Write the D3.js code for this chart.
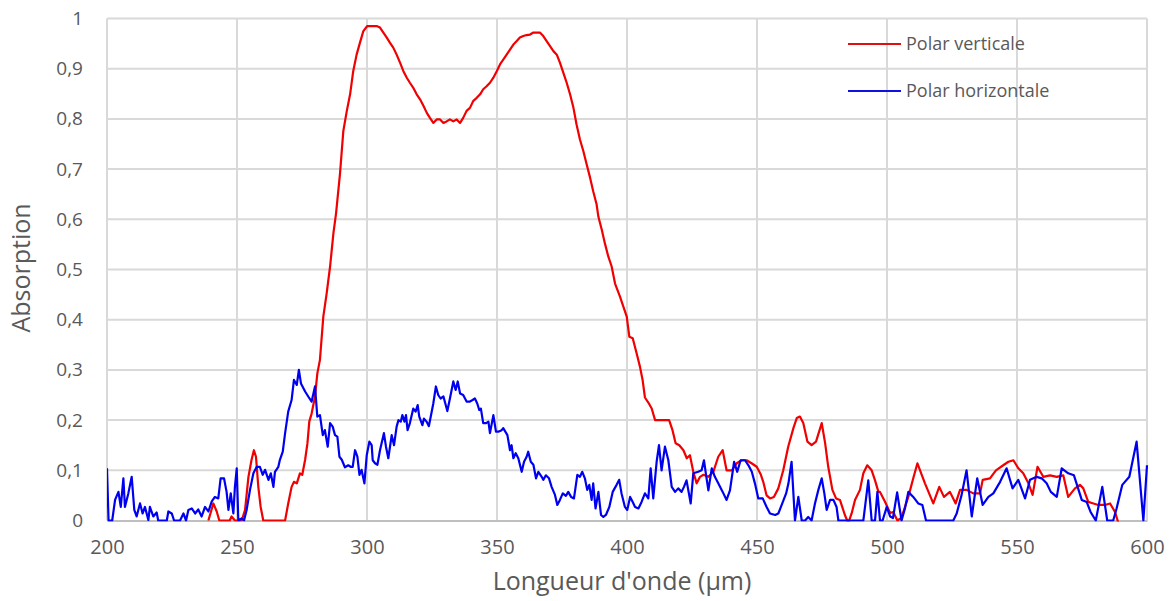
<!DOCTYPE html>
<html><head><meta charset="utf-8">
<script src="https://cdn.jsdelivr.net/npm/d3@7/dist/d3.min.js"></script>
<style>body{margin:0;background:#fff}svg{display:block}</style>
</head><body>
<svg id="c" width="1173" height="601"></svg>
<script>
const xTicks = [200,250,300,350,400,450,500,550,600];
const yTicks = [0,0.1,0.2,0.3,0.4,0.5,0.6,0.7,0.8,0.9,1];
const seriesNames = ["Polar verticale","Polar horizontale"];

const redX = [239.0,240.9,242.2,243.2,247.2,247.9,249.2,251.8,253.1,254.4,255.6,256.5,257.3,258.2,259.1,260.1,268.5,269.7,271.0,271.9,273.0,274.2,275.1,276.2,277.1,277.8,278.7,280.0,280.9,281.9,283.2,284.5,285.8,287.1,288.1,289.6,290.9,292.2,293.5,294.7,296.0,297.3,298.6,300.1,301.8,303.7,305.0,306.3,307.6,308.8,310.1,311.4,312.7,314.0,315.3,316.5,317.8,319.1,320.4,321.7,323.0,324.2,325.5,326.8,328.1,329.4,330.6,331.9,333.2,334.5,335.8,337.0,338.3,339.6,340.9,342.2,343.5,344.7,346.0,347.3,348.6,349.9,351.2,352.4,353.7,355.0,356.3,357.6,358.8,360.1,361.4,362.7,364.0,365.3,366.5,367.8,369.1,370.4,371.7,373.0,374.2,375.5,376.8,378.1,379.4,380.6,381.9,383.2,384.5,385.8,387.0,388.3,389.0,390.3,391.5,392.8,394.1,395.4,397.3,398.6,399.9,400.9,402.2,403.7,405.0,406.0,406.9,408.2,409.5,410.8,416.2,417.5,418.7,420.1,421.7,423.0,424.2,425.5,426.8,428.1,429.4,431.3,433.2,435.1,436.8,438.3,440.3,442.2,444.1,446.0,447.9,449.9,451.5,452.4,453.7,455.0,456.5,458.2,460.1,462.0,464.0,465.3,466.5,467.8,469.4,471.0,472.7,474.9,476.2,477.4,479.0,480.4,481.9,483.8,485.1,486.4,487.7,489.6,490.9,492.4,494.1,495.4,496.7,497.3,499.2,501.2,502.4,504.0,505.5,508.2,510.1,511.7,514.6,517.8,520.1,521.9,524.2,526.4,528.1,530.6,533.2,535.8,536.8,539.6,541.9,544.7,546.7,548.6,550.5,552.4,554.4,556.0,557.9,560.1,562.7,565.3,567.8,569.7,572.3,574.2,575.5,577.4,579.4,581.3,583.8,585.8,587.7,589.0];
const redY = [0,0.034,0.018,0,0,0.008,0,0,0.021,0.087,0.121,0.14,0.127,0.067,0.027,0,0,0.034,0.067,0.077,0.074,0.094,0.091,0.121,0.154,0.197,0.213,0.247,0.293,0.32,0.406,0.453,0.506,0.573,0.612,0.69,0.776,0.815,0.849,0.895,0.928,0.952,0.975,0.985,0.985,0.985,0.982,0.972,0.962,0.952,0.942,0.928,0.912,0.895,0.882,0.872,0.862,0.849,0.839,0.826,0.812,0.802,0.792,0.799,0.799,0.792,0.795,0.799,0.795,0.799,0.792,0.802,0.816,0.822,0.836,0.842,0.849,0.859,0.865,0.872,0.882,0.895,0.909,0.918,0.928,0.938,0.948,0.955,0.962,0.965,0.967,0.968,0.972,0.972,0.972,0.965,0.955,0.945,0.935,0.928,0.912,0.892,0.872,0.849,0.822,0.789,0.759,0.736,0.709,0.683,0.656,0.63,0.605,0.579,0.552,0.526,0.506,0.472,0.446,0.426,0.406,0.366,0.363,0.333,0.306,0.28,0.245,0.235,0.223,0.2,0.2,0.18,0.154,0.15,0.14,0.124,0.13,0.097,0.074,0.087,0.091,0.087,0.097,0.127,0.14,0.1,0.1,0.114,0.12,0.12,0.114,0.107,0.091,0.077,0.05,0.044,0.047,0.064,0.1,0.147,0.184,0.204,0.207,0.194,0.157,0.15,0.157,0.194,0.154,0.107,0.061,0.044,0.041,0.011,-0.005,0.014,0.041,0.061,0.094,0.11,0.1,0.08,0.057,0.057,0.038,0.015,0.017,0.0,0.005,0.047,0.084,0.114,0.074,0.034,0.067,0.047,0.057,0.034,0.061,0.061,0.054,0.054,0.081,0.084,0.1,0.11,0.117,0.12,0.104,0.094,0.074,0.051,0.107,0.087,0.09,0.087,0.09,0.047,0.064,0.071,0.064,0.037,0.034,0.031,0.031,0.034,0.017,-0.005];

const blueX = [200.0,200.6,202.0,203.1,204.4,205.3,206.3,206.9,208.2,209.5,210.5,211.4,212.7,213.7,214.6,215.9,216.5,217.8,219.1,219.7,223.0,223.6,224.9,225.8,228.1,229.4,230.4,231.3,232.6,233.9,235.1,236.4,237.7,239.0,240.3,241.5,242.8,243.7,245.0,246.0,246.7,247.6,248.6,249.2,249.9,250.5,251.8,252.7,253.7,255.0,256.3,257.6,258.8,259.9,260.8,262.1,263.0,264.0,264.6,265.9,266.5,267.6,268.5,269.7,271.0,271.9,273.0,273.8,274.6,276.2,277.4,278.7,280.0,280.9,281.9,283.0,283.8,284.9,285.8,286.8,287.7,288.6,289.4,290.3,291.5,292.8,293.7,294.5,295.4,296.3,297.1,297.9,299.0,299.9,300.9,301.8,302.2,303.1,304.0,305.0,306.5,307.3,308.2,309.5,310.4,311.4,312.1,313.0,313.6,314.4,315.0,315.6,316.5,317.8,318.7,319.5,320.1,321.3,321.9,322.9,323.8,324.9,325.5,326.5,327.4,328.3,329.4,330.9,331.9,333.2,334.1,334.9,335.8,337.0,338.3,339.6,340.6,341.5,342.4,343.2,343.8,344.7,345.8,346.7,347.3,348.6,349.6,350.5,351.8,352.4,354.0,355.0,355.6,356.3,357.2,358.2,359.5,360.4,361.4,362.0,363.0,364.0,365.0,365.9,367.2,367.8,368.8,370.0,371.0,372.3,373.2,374.2,375.3,376.5,377.4,378.5,379.6,380.9,381.9,382.8,383.8,384.7,385.5,386.4,387.0,387.9,389.0,390.0,390.9,391.9,393.2,394.5,396.0,397.0,397.9,399.2,400.1,401.2,402.2,403.1,404.4,405.6,406.9,408.2,409.1,410.1,411.4,412.3,413.3,414.6,415.9,417.2,418.5,419.7,421.0,421.9,422.9,424.5,425.5,427.4,428.7,429.6,430.4,431.3,432.6,433.8,435.1,436.8,438.3,439.6,441.2,442.4,443.7,445.4,446.7,448.0,449.2,450.5,452.2,453.7,455.0,457.0,458.2,459.5,461.2,462.1,463.3,464.6,465.9,467.2,468.5,469.7,471.0,472.3,473.6,474.9,475.9,476.8,478.1,479.4,480.6,481.3,490.9,492.8,494.1,495.4,496.3,497.3,498.3,499.9,501.2,502.3,503.9,505.6,506.9,508.2,510.1,512.0,513.6,515.0,525.5,526.8,528.7,530.6,532.6,534.7,536.8,539.0,540.9,543.5,546.0,548.3,550.5,553.1,555.0,557.6,559.5,561.4,563.0,565.3,567.2,569.7,571.9,574.9,576.8,578.3,580.3,582.8,584.7,587.0,588.3,590.5,593.2,596.0,598.6,600.0];
const blueY = [0.104,0,0,0.041,0.057,0.027,0.084,0.027,0.054,0.087,0.021,0.008,0.034,0.014,0.027,0.001,0.027,0.008,0.016,0,0,0.018,0.014,0,0,0.014,0,0.021,0.024,0.014,0.022,0.008,0.027,0.018,0.038,0.047,0.044,0.084,0.084,0.057,0.021,0.054,0.014,0.067,0.104,0,0.004,0,0.021,0.061,0.094,0.107,0.107,0.091,0.101,0.081,0.094,0.067,0.097,0.107,0.121,0.137,0.174,0.217,0.24,0.28,0.27,0.30,0.273,0.257,0.247,0.237,0.267,0.207,0.21,0.17,0.18,0.147,0.194,0.187,0.17,0.167,0.127,0.121,0.106,0.11,0.107,0.107,0.14,0.127,0.091,0.101,0.074,0.13,0.157,0.15,0.12,0.114,0.111,0.14,0.174,0.147,0.124,0.17,0.15,0.187,0.2,0.197,0.21,0.197,0.21,0.18,0.194,0.223,0.217,0.23,0.207,0.19,0.203,0.197,0.188,0.217,0.233,0.267,0.25,0.243,0.247,0.218,0.243,0.277,0.26,0.277,0.253,0.25,0.237,0.237,0.24,0.243,0.233,0.22,0.223,0.194,0.194,0.197,0.174,0.21,0.177,0.177,0.18,0.184,0.17,0.14,0.15,0.124,0.134,0.124,0.097,0.117,0.127,0.137,0.117,0.111,0.084,0.097,0.087,0.081,0.09,0.084,0.067,0.051,0.031,0.041,0.054,0.049,0.057,0.047,0.044,0.091,0.087,0.097,0.084,0.061,0.071,0.041,0.074,0.024,0.057,0.011,0.007,0.011,0.027,0.057,0.071,0.081,0.054,0.027,0.021,0.047,0.037,0.027,0.024,0.037,0.054,0.044,0.104,0.044,0.117,0.15,0.1,0.147,0.12,0.067,0.057,0.064,0.057,0.067,0.08,0.034,0.094,0.097,0.1,0.12,0.091,0.06,0.104,0.087,0.074,0.057,0.041,0.06,0.117,0.097,0.12,0.12,0.11,0.097,0.074,0.044,0.044,0.027,0.014,0.011,0.014,0.031,0.054,0.074,0.117,0,0.047,0,0,0.007,0,0.034,0.061,0.084,0.054,0.021,0.041,0.041,0.027,0,0,0.08,0,0,0.057,0,0,0.027,0.008,0.005,0.056,0,0.024,0.057,0.047,0.034,0.031,0,0,0.014,0.051,0.1,0.008,0.084,0.031,0.047,0.054,0.077,0.104,0.064,0.081,0.044,0.081,0.087,0.084,0.074,0.057,0.047,0.104,0.094,0.09,0.041,0.037,0.017,0,0.067,0,0,0.024,0.071,0.087,0.157,0,0.11];

const W = 1173, H = 601;
const m = {left:107, right:1147, top:18.5, bottom:520.5};
const svg = d3.select("#c");
const x = d3.scaleLinear().domain([200,600]).range([m.left, m.right]);
const y = d3.scaleLinear().domain([0,1]).range([m.bottom, m.top]);
const font = "'Open Sans', sans-serif";
const grey = "#595959";

// gridlines
svg.append("g").selectAll("line.h").data(yTicks.filter(d=>d>0)).join("line")
  .attr("x1", m.left).attr("x2", m.right)
  .attr("y1", d=>y(d)).attr("y2", d=>y(d))
  .attr("stroke","#d9d9d9").attr("stroke-width",2);
svg.append("g").selectAll("line.v").data(xTicks).join("line")
  .attr("x1", d=>x(d)).attr("x2", d=>x(d))
  .attr("y1", m.top).attr("y2", m.bottom)
  .attr("stroke","#d9d9d9").attr("stroke-width",2);

// axes
const xAxis = svg.append("g").attr("transform",`translate(0,${m.bottom})`)
  .call(d3.axisBottom(x).tickValues(xTicks).tickSize(0).tickPadding(19).tickFormat(d3.format("d")));
xAxis.select(".domain").attr("stroke","#bfbfbf").attr("stroke-width",2);
xAxis.selectAll("text").attr("fill",grey).style("font-family",font).style("font-size","20px");

const yAxis = svg.append("g").attr("transform",`translate(${m.left},0)`)
  .call(d3.axisLeft(y).tickValues(yTicks).tickSize(0).tickPadding(24)
    .tickFormat(d => d===0 ? "0" : d===1 ? "1" : String(d.toFixed(1)).replace(".",",")));
yAxis.select(".domain").remove();
yAxis.selectAll("text").attr("fill",grey).style("font-family",font).style("font-size","19px");

// titles
svg.append("text").attr("x", 622).attr("y", 590).attr("text-anchor","middle")
  .attr("fill",grey).style("font-family",font).style("font-size","25px").text("Longueur d'onde (µm)");
svg.append("text").attr("transform","translate(30,268) rotate(-90)").attr("text-anchor","middle")
  .attr("fill",grey).style("font-family",font).style("font-size","25px").text("Absorption");

// lines
svg.append("defs").append("clipPath").attr("id","clip").append("rect")
  .attr("x", m.left).attr("y", 0).attr("width", m.right-m.left+4).attr("height", m.bottom+1);
const line = d3.line().x(d=>x(d[0])).y(d=>y(d[1]));
const redData = redX.map((v,i)=>[v, redY[i]]);
const blueData = blueX.map((v,i)=>[v, blueY[i]]);
const plot = svg.append("g").attr("clip-path","url(#clip)");
plot.append("path").datum(redData).attr("d",line).attr("fill","none")
  .attr("stroke","#f00000").attr("stroke-width",2.2).attr("stroke-linejoin","round");
plot.append("path").datum(blueData).attr("d",line).attr("fill","none")
  .attr("stroke","#0000f0").attr("stroke-width",2.2).attr("stroke-linejoin","round");

// legend
const colors = ["#e01010","#1010e0"];
const lg = svg.append("g");
seriesNames.forEach((n,i)=>{
  const yy = 44 + i*47;
  lg.append("line").attr("x1",848).attr("x2",901).attr("y1",yy).attr("y2",yy)
    .attr("stroke",colors[i]).attr("stroke-width",2.2);
  lg.append("text").attr("x",906).attr("y",yy).attr("dy","0.35em")
    .attr("fill",grey).style("font-family",font).style("font-size","18px").text(n);
});
</script>
</body></html>
